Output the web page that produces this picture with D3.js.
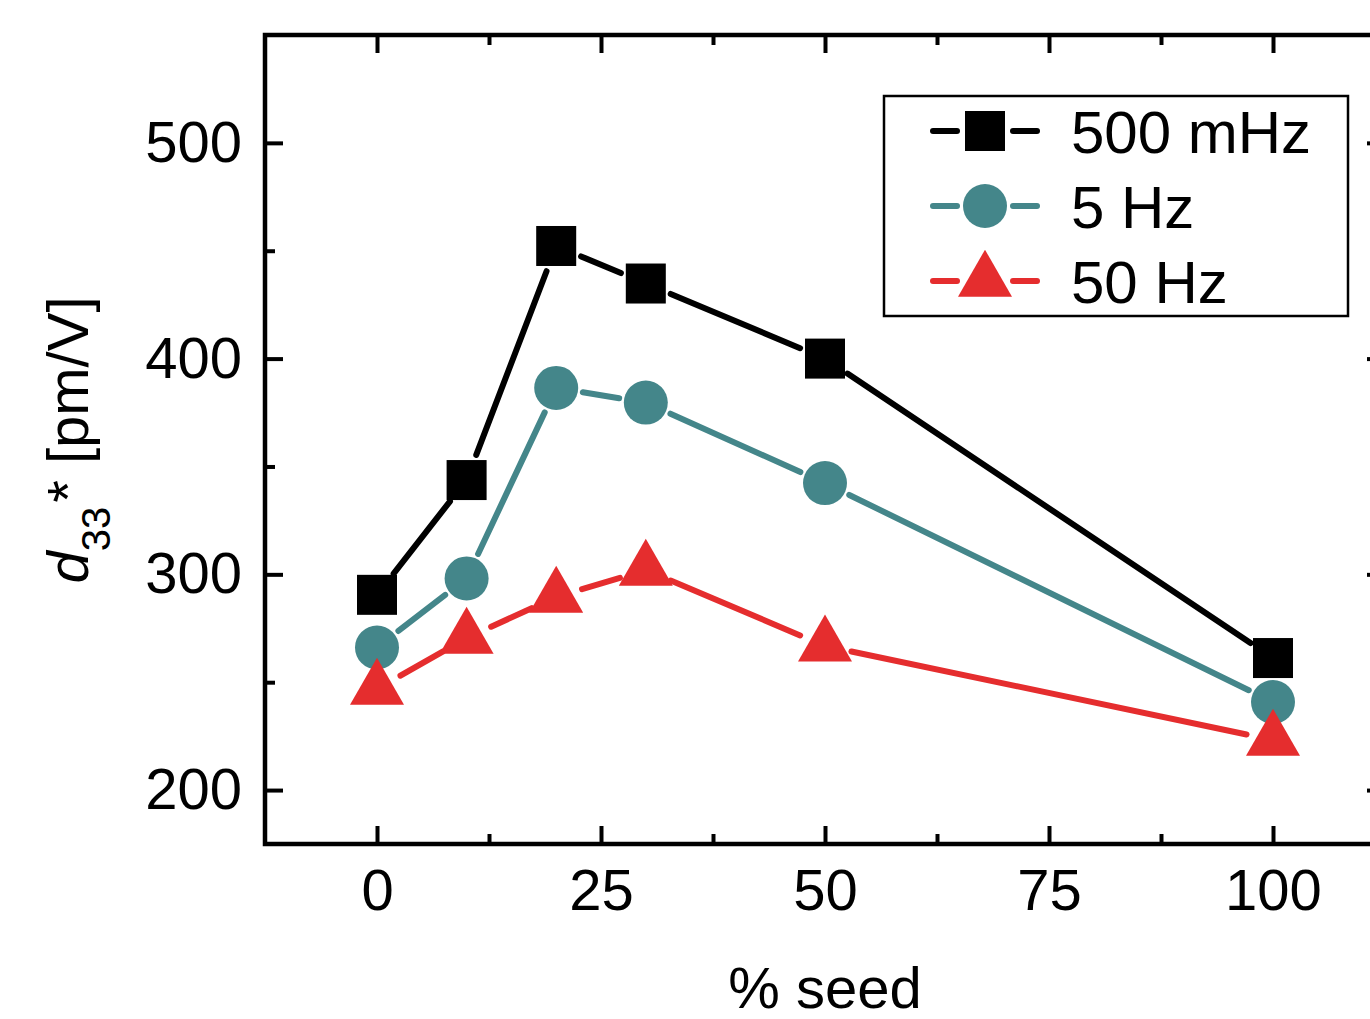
<!DOCTYPE html>
<html>
<head>
<meta charset="utf-8">
<script src="https://cdn.jsdelivr.net/npm/d3@7"></script>
<style>
  html, body { margin: 0; padding: 0; background: #fff; }
  svg { display: block; font-family: "Liberation Sans", Arial, Helvetica, sans-serif; }
</style>
</head>
<body>
<svg id="chart" width="1370" height="1019"></svg>
<script>
// ---- data ----
const seedPercent = [0, 10, 20, 30, 50, 100];
const seriesNames = ["500 mHz", "5 Hz", "50 Hz"];
const values500mHz = [290.5, 343.7, 452.2, 434.8, 400.0, 261.2];
const values5Hz    = [266.1, 298.1, 386.4, 379.6, 342.3, 240.8];
const values50Hz   = [246.8, 270.5, 289.5, 302.0, 266.8, 223.2];
const xMajorTicks = [0, 25, 50, 75, 100];
const xMinorTicks = [12.5, 37.5, 62.5, 87.5];
const yMajorTicks = [200, 300, 400, 500];
const yMinorTicks = [250, 350, 450];
const xTitle = "% seed";

// ---- layout ----
const svg = d3.select("#chart");
const pLeft = 265, pRight = 1385, pTop = 35, pBottom = 844;
const x = d3.scaleLinear().domain([-12.5, 112.5]).range([pLeft, pRight]);
const y = d3.scaleLinear().domain([175, 550]).range([pBottom, pTop]);

const colors = ["#000000", "#44868a", "#e52d2e"];
const shapes = ["square", "circle", "triangle"];
const series = [values500mHz, values5Hz, values50Hz].map((vals, i) => ({
  name: seriesNames[i], color: colors[i], shape: shapes[i],
  points: seedPercent.map((s, j) => ({ s, v: vals[j] }))
}));

const fontSize = 58;
const legendFont = 60;
const lineW = 6;

// ---- axes ----
function styleAxis(g, hideText) {
  g.select(".domain").remove();
  g.selectAll(".tick line").attr("stroke", "#000").attr("stroke-width", 4);
  g.selectAll(".tick text").attr("font-size", fontSize).attr("fill", "#000")
    .attr("font-family", '"Liberation Sans", Arial, sans-serif');
  if (hideText) g.selectAll(".tick text").remove();
}
// bottom
svg.append("g").attr("transform", `translate(0,${pBottom})`)
  .call(d3.axisBottom(x).tickValues(xMajorTicks).tickSize(-18).tickPadding(25).tickFormat(d3.format("d")))
  .call(g => styleAxis(g, false));
svg.append("g").attr("transform", `translate(0,${pBottom})`)
  .call(d3.axisBottom(x).tickValues(xMinorTicks).tickSize(-10))
  .call(g => styleAxis(g, true));
// top
svg.append("g").attr("transform", `translate(0,${pTop})`)
  .call(d3.axisTop(x).tickValues(xMajorTicks).tickSize(-18))
  .call(g => styleAxis(g, true));
svg.append("g").attr("transform", `translate(0,${pTop})`)
  .call(d3.axisTop(x).tickValues(xMinorTicks).tickSize(-10))
  .call(g => styleAxis(g, true));
// left
svg.append("g").attr("transform", `translate(${pLeft},0)`)
  .call(d3.axisLeft(y).tickValues(yMajorTicks).tickSize(-18).tickPadding(23).tickFormat(d3.format("d")))
  .call(g => styleAxis(g, false));
svg.append("g").attr("transform", `translate(${pLeft},0)`)
  .call(d3.axisLeft(y).tickValues(yMinorTicks).tickSize(-10))
  .call(g => styleAxis(g, true));
// right
svg.append("g").attr("transform", `translate(${pRight},0)`)
  .call(d3.axisRight(y).tickValues(yMajorTicks).tickSize(-18))
  .call(g => styleAxis(g, true));
svg.append("g").attr("transform", `translate(${pRight},0)`)
  .call(d3.axisRight(y).tickValues(yMinorTicks).tickSize(-10))
  .call(g => styleAxis(g, true));

// frame
svg.append("rect").attr("x", pLeft).attr("y", pTop)
  .attr("width", pRight - pLeft).attr("height", pBottom - pTop)
  .attr("fill", "none").attr("stroke", "#000").attr("stroke-width", 4.5);

// ---- markers ----
function drawMarker(g, shape, cx, cy, color) {
  if (shape === "square") {
    g.append("rect").attr("x", cx - 20).attr("y", cy - 20).attr("width", 40).attr("height", 40).attr("fill", color);
  } else if (shape === "circle") {
    g.append("circle").attr("cx", cx).attr("cy", cy).attr("r", 22).attr("fill", color);
  } else {
    const w = 54, h = 47;
    const apex = cy - h * 2 / 3, base = cy + h / 3;
    g.append("path").attr("d", `M${cx},${apex}L${cx + w / 2},${base}L${cx - w / 2},${base}Z`).attr("fill", color);
  }
}

const gap = 27;
const plot = svg.append("g");
series.forEach(sr => {
  const pts = sr.points.map(p => [x(p.s), y(p.v)]);
  for (let i = 0; i < pts.length - 1; i++) {
    const [x1, y1] = pts[i], [x2, y2] = pts[i + 1];
    const dx = x2 - x1, dy = y2 - y1, L = Math.hypot(dx, dy);
    const ux = dx / L, uy = dy / L;
    plot.append("line")
      .attr("x1", x1 + ux * gap).attr("y1", y1 + uy * gap)
      .attr("x2", x2 - ux * gap).attr("y2", y2 - uy * gap)
      .attr("stroke", sr.color).attr("stroke-width", lineW).attr("stroke-linecap", "round");
  }
});
series.forEach(sr => {
  sr.points.forEach(p => drawMarker(plot, sr.shape, x(p.s), y(p.v), sr.color));
});

// ---- legend ----
const legend = svg.append("g");
legend.append("rect").attr("x", 884).attr("y", 96).attr("width", 464).attr("height", 220)
  .attr("fill", "#fff").attr("stroke", "#000").attr("stroke-width", 2.5);
const rowY = [131, 206, 281];
series.forEach((sr, i) => {
  const cy = rowY[i], cx = 985;
  legend.append("line").attr("x1", 933).attr("x2", 957).attr("y1", cy).attr("y2", cy)
    .attr("stroke", sr.color).attr("stroke-width", lineW).attr("stroke-linecap", "round");
  legend.append("line").attr("x1", 1013).attr("x2", 1037).attr("y1", cy).attr("y2", cy)
    .attr("stroke", sr.color).attr("stroke-width", lineW).attr("stroke-linecap", "round");
  drawMarker(legend, sr.shape, cx, cy, sr.color);
  legend.append("text").attr("x", 1071).attr("y", cy + 22)
    .attr("font-size", legendFont).attr("fill", "#000").text(sr.name);
});

// ---- titles ----
svg.append("text").attr("x", 825).attr("y", 1008).attr("text-anchor", "middle")
  .attr("font-size", fontSize).attr("fill", "#000").text(xTitle);

const yt = svg.append("text").attr("transform", "translate(88,440) rotate(-90)")
  .attr("text-anchor", "middle").attr("font-size", fontSize).attr("fill", "#000");
yt.append("tspan").attr("font-style", "italic").text("d");
yt.append("tspan").attr("font-size", 40).attr("dy", 22).text("33");
yt.append("tspan").attr("dy", -22).attr("dx", 4).text("*");
yt.append("tspan").text(" [pm/V]");
</script>
</body>
</html>
